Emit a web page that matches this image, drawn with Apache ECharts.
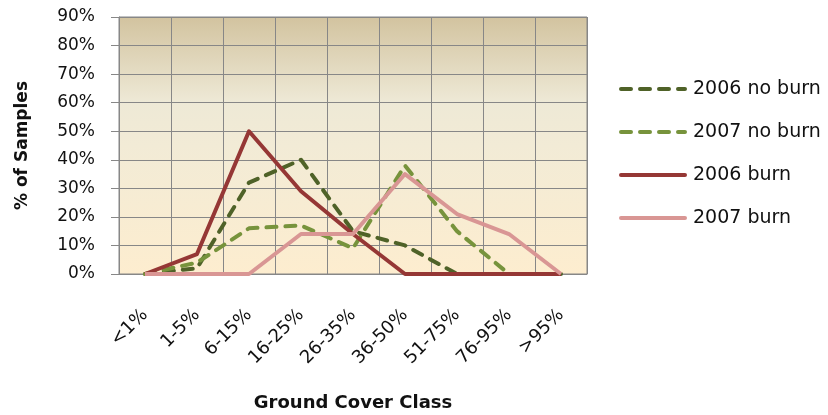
<!DOCTYPE html>
<html>
<head>
<meta charset="utf-8">
<script src="https://cdn.jsdelivr.net/npm/echarts@6/dist/echarts.min.js"></script>
<style>
  html, body { margin: 0; padding: 0; background: #fff; }
  #chart { width: 828px; height: 415px; }
</style>
</head>
<body>
<div id="chart"></div>
<script>
// Ground cover classes and share of samples (%) per class
const categories = ['<1%', '1-5%', '6-15%', '16-25%', '26-35%', '36-50%', '51-75%', '76-95%', '>95%'];
const noBurn2006 = [0, 2, 32, 40, 15, 10, 0, 0, 0];
const noBurn2007 = [0, 4, 16, 17, 9, 38, 15, 0, 0];
const burn2006   = [0, 7, 50, 29, 14, 0, 0, 0, 0];
const burn2007   = [0, 0, 0, 14, 14, 35, 21, 14, 0];
const yTicks = [0, 10, 20, 30, 40, 50, 60, 70, 80, 90];

const FONT = 'DejaVu Sans';
const GRID_COLOR = '#878787';

function lineSeries(name, data, color, dashed) {
  return {
    name: name,
    type: 'line',
    data: data,
    symbol: 'none',
    lineStyle: {
      color: color,
      width: 4,
      type: dashed ? [10, 9] : 'solid',
      cap: dashed ? 'round' : 'butt',
      join: 'round'
    },
    itemStyle: { color: color },
    emphasis: { disabled: true },
    z: 3
  };
}

const chart = echarts.init(document.getElementById('chart'), null, { renderer: 'canvas' });

chart.setOption({
  animation: false,
  backgroundColor: '#ffffff',
  textStyle: { fontFamily: FONT },
  grid: {
    left: 119, top: 17, right: 241, bottom: 141,
    outerBoundsMode: 'none',
    containLabel: false,
    show: true,
    borderWidth: 1,
    borderColor: GRID_COLOR,
    backgroundColor: new echarts.graphic.LinearGradient(0, 0, 0, 1, [
      { offset: 0, color: '#D2C39F' },
      { offset: 0.33, color: '#EEE9D6' },
      { offset: 0.5, color: '#F2EBD6' },
      { offset: 1, color: '#FDEDCF' }
    ])
  },
  legend: {
    orient: 'vertical',
    left: 619,
    top: 79,
    padding: 0,
    itemWidth: 64,
    itemHeight: 14,
    itemGap: 23,
    selectedMode: false,
    itemStyle: { color: 'transparent', borderColor: 'transparent', borderWidth: 0 },
    lineStyle: { width: 4, cap: 'round' },
    textStyle: { fontFamily: FONT, fontSize: 19, color: '#111111', lineHeight: 20, padding: [0, 0, 0, 3] },
    data: ['2006 no burn', '2007 no burn', '2006 burn', '2007 burn']
  },
  xAxis: {
    type: 'category',
    data: categories,
    boundaryGap: true,
    name: 'Ground Cover Class',
    nameLocation: 'middle',
    nameGap: 120,
    nameTextStyle: { fontFamily: FONT, fontSize: 18, fontWeight: 'bold', color: '#111111' },
    axisLine: { show: true, lineStyle: { color: GRID_COLOR, width: 1 } },
    axisTick: { show: false },
    axisLabel: { rotate: 45, margin: 38, interval: 0, fontFamily: FONT, fontSize: 18, color: '#111111' },
    splitLine: { show: true, interval: 0, lineStyle: { color: GRID_COLOR, width: 1 } }
  },
  yAxis: {
    type: 'value',
    min: yTicks[0],
    max: yTicks[yTicks.length - 1],
    interval: 10,
    name: '% of Samples',
    nameLocation: 'middle',
    nameGap: 88,
    nameTextStyle: { fontFamily: FONT, fontSize: 17, fontWeight: 'bold', color: '#111111' },
    axisLine: { show: true, lineStyle: { color: GRID_COLOR, width: 1 } },
    axisTick: { show: true, inside: false, length: 8, lineStyle: { color: GRID_COLOR } },
    axisLabel: { margin: 24, fontFamily: FONT, fontSize: 17, color: '#111111', formatter: '{value}%' },
    splitLine: { show: true, lineStyle: { color: GRID_COLOR, width: 1 } }
  },
  series: [
    lineSeries('2006 no burn', noBurn2006, '#4F6228', true),
    lineSeries('2007 no burn', noBurn2007, '#77933C', true),
    lineSeries('2006 burn', burn2006, '#953735', false),
    lineSeries('2007 burn', burn2007, '#D99694', false)
  ]
});
</script>
</body>
</html>
